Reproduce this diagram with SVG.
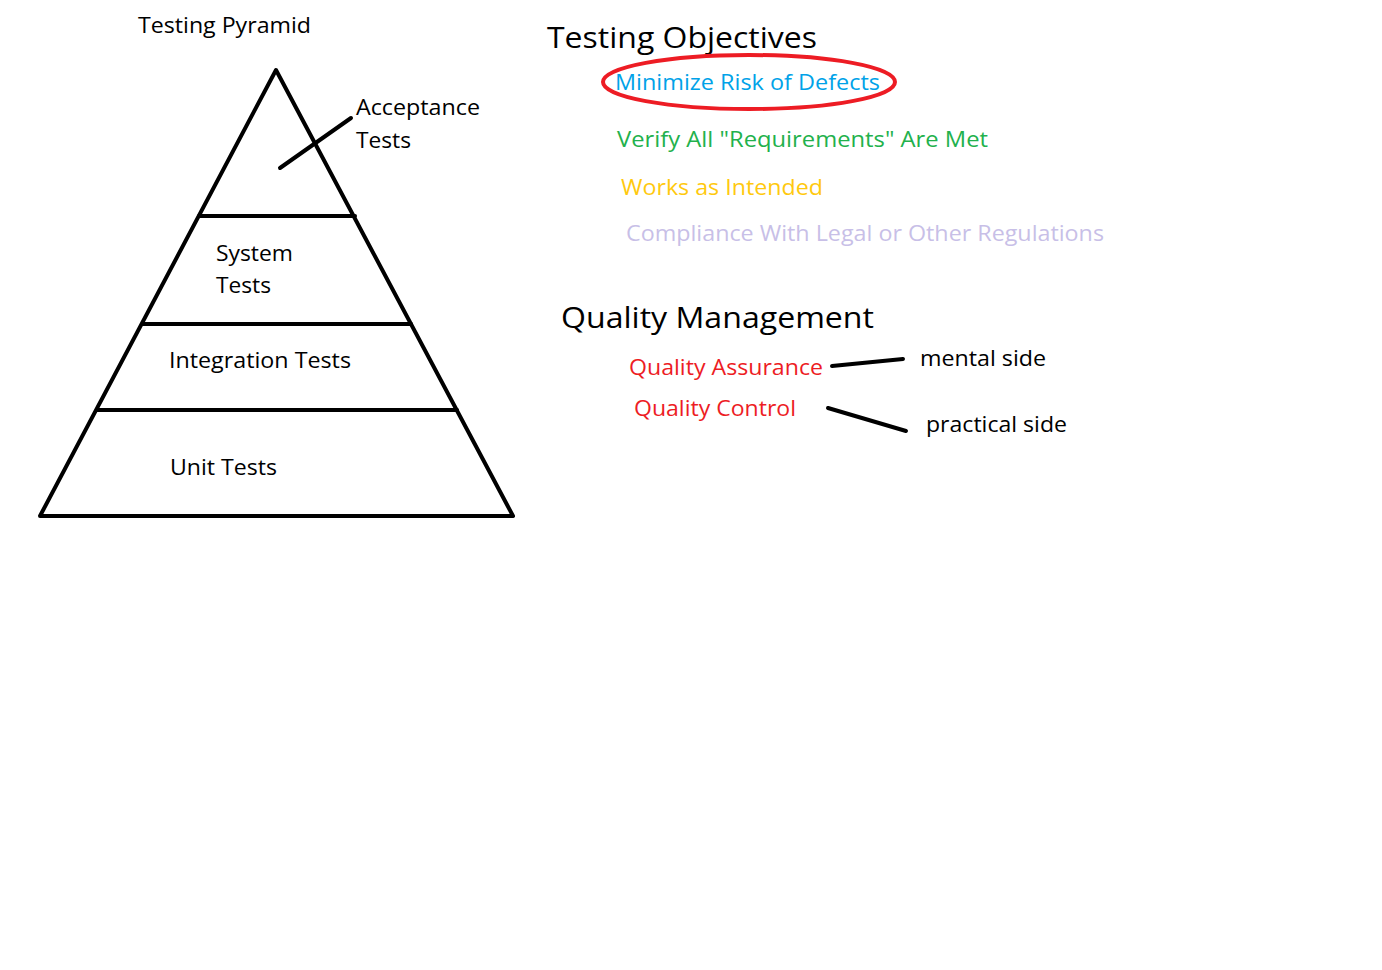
<svg xmlns="http://www.w3.org/2000/svg" width="1382" height="970" viewBox="0 0 1382 970">
<style>
text{font-family:"Open Sans","Noto Sans","Liberation Sans",sans-serif;font-size:22px;fill:#000}
.big{font-size:29px}
.blue{fill:#00A2E8}.green{fill:#22B14C}.gold{fill:#FFC90E}.lav{fill:#C8BFE7}.red{fill:#ED1C24}
.ln{stroke:#000;stroke-width:4;stroke-linecap:round;fill:none}
</style>
<rect width="1382" height="970" fill="#fff"/>
<g id="pyramid">
<path class="ln" d="M40,516 L276,70 L513,516 Z" stroke-linejoin="round"/>
<line class="ln" x1="199" y1="216" x2="355" y2="216" stroke-linecap="butt"/>
<line class="ln" x1="143" y1="324" x2="411" y2="324" stroke-linecap="butt"/>
<line class="ln" x1="97" y1="410" x2="457" y2="410" stroke-linecap="butt"/>
</g>
<g id="title-pyramid"><text x="138" y="33" textLength="173" lengthAdjust="spacingAndGlyphs">Testing Pyramid</text></g>
<g id="acceptance"><text x="356" y="115" textLength="124" lengthAdjust="spacingAndGlyphs">Acceptance</text><text x="356" y="148" textLength="55" lengthAdjust="spacingAndGlyphs">Tests</text></g>
<g id="system"><text x="216" y="261" textLength="77" lengthAdjust="spacingAndGlyphs">System</text><text x="216" y="293" textLength="55" lengthAdjust="spacingAndGlyphs">Tests</text></g>
<g id="integration"><text x="169" y="368" textLength="182" lengthAdjust="spacingAndGlyphs">Integration Tests</text></g>
<g id="unit"><text x="170" y="475" textLength="107" lengthAdjust="spacingAndGlyphs">Unit Tests</text></g>
<g id="objectives">
<text class="big" x="547" y="48" textLength="270" lengthAdjust="spacingAndGlyphs">Testing Objectives</text>
<ellipse cx="749" cy="82" rx="146" ry="27" fill="none" stroke="#ED1C24" stroke-width="4"/>
<text class="blue" x="615" y="90" textLength="265" lengthAdjust="spacingAndGlyphs">Minimize Risk of Defects</text>
<text class="green" x="617" y="147" textLength="371" lengthAdjust="spacingAndGlyphs">Verify All "Requirements" Are Met</text>
<text class="gold" x="621" y="195" textLength="202" lengthAdjust="spacingAndGlyphs">Works as Intended</text>
<text class="lav" x="626" y="241" textLength="478" lengthAdjust="spacingAndGlyphs">Compliance With Legal or Other Regulations</text>
</g>
<g id="quality">
<text class="big" x="561" y="328" textLength="313" lengthAdjust="spacingAndGlyphs">Quality Management</text>
<text class="red" x="629" y="375" textLength="194" lengthAdjust="spacingAndGlyphs">Quality Assurance</text>
<text class="red" x="634" y="416" textLength="162" lengthAdjust="spacingAndGlyphs">Quality Control</text>
<text x="920" y="366" textLength="126" lengthAdjust="spacingAndGlyphs">mental side</text>
<text x="926" y="432" textLength="141" lengthAdjust="spacingAndGlyphs">practical side</text>
</g>
<g id="connectors">
<line class="ln" x1="280" y1="168" x2="351" y2="118"/>
<line class="ln" x1="832" y1="366" x2="903" y2="359"/>
<line class="ln" x1="828" y1="408" x2="906" y2="431"/>
</g>
</svg>
